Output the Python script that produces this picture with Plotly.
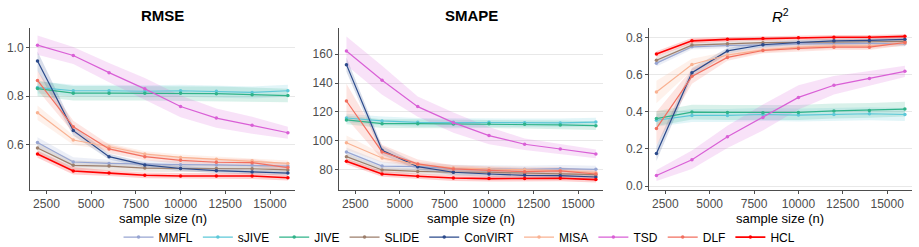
import plotly.graph_objects as go

n = [2000, 4000, 6000, 8000, 10000, 12000, 14000, 16000]
methods = ["MMFL", "sJIVE", "JIVE", "SLIDE", "ConVIRT", "MISA", "TSD", "DLF", "HCL"]
colors = {
    "MMFL": "#97A5D2", "sJIVE": "#5CC8D8", "JIVE": "#2FB389", "SLIDE": "#9C7E6B",
    "ConVIRT": "#2B4A8B", "MISA": "#F9B292", "TSD": "#D95FD6", "DLF": "#F26F5F", "HCL": "#FF0000",
}
x_title = "sample size (n)"

rmse = {
    "MMFL":    [0.608, 0.527, 0.521, 0.517, 0.516, 0.515, 0.513, 0.510],
    "sJIVE":   [0.836, 0.822, 0.822, 0.820, 0.822, 0.820, 0.815, 0.822],
    "JIVE":    [0.831, 0.812, 0.812, 0.812, 0.812, 0.810, 0.806, 0.802],
    "SLIDE":   [0.585, 0.513, 0.510, 0.502, 0.500, 0.500, 0.499, 0.494],
    "ConVIRT": [0.945, 0.657, 0.549, 0.515, 0.500, 0.491, 0.486, 0.481],
    "MISA":    [0.731, 0.618, 0.590, 0.560, 0.546, 0.538, 0.532, 0.521],
    "TSD":     [1.011, 0.968, 0.897, 0.830, 0.757, 0.709, 0.679, 0.648],
    "DLF":     [0.865, 0.673, 0.581, 0.549, 0.534, 0.526, 0.524, 0.504],
    "HCL":     [0.560, 0.490, 0.481, 0.472, 0.469, 0.469, 0.469, 0.462],
}
rmse_band = {
    "MMFL":    [0.022, 0.020, 0.015, 0.015, 0.015, 0.015, 0.015, 0.015],
    "sJIVE":   [0.025, 0.025, 0.025, 0.025, 0.025, 0.025, 0.025, 0.025],
    "JIVE":    [0.032, 0.030, 0.030, 0.030, 0.030, 0.030, 0.030, 0.028],
    "SLIDE":   [0.020, 0.020, 0.018, 0.015, 0.015, 0.015, 0.015, 0.015],
    "ConVIRT": [0.040, 0.020, 0.012, 0.010, 0.010, 0.010, 0.010, 0.010],
    "MISA":    [0.030, 0.020, 0.015, 0.012, 0.012, 0.012, 0.012, 0.012],
    "TSD":     [0.040, 0.035, 0.040, 0.045, 0.045, 0.040, 0.035, 0.025],
    "DLF":     [0.040, 0.025, 0.018, 0.015, 0.015, 0.015, 0.015, 0.015],
    "HCL":     [0.015, 0.015, 0.012, 0.012, 0.012, 0.012, 0.012, 0.012],
}

smape = {
    "MMFL":    [92.3, 82.5, 82.1, 80.9, 80.5, 80.2, 80.7, 80.2],
    "sJIVE":   [115.8, 113.8, 112.8, 112.8, 112.8, 112.6, 112.4, 113.0],
    "JIVE":    [114.5, 111.9, 111.9, 111.7, 111.9, 111.4, 111.0, 110.5],
    "SLIDE":   [89.0, 79.8, 78.8, 78.2, 78.2, 77.7, 77.2, 76.5],
    "ConVIRT": [152.8, 93.4, 82.1, 78.2, 77.0, 76.1, 75.8, 74.9],
    "MISA":    [98.7, 88.1, 83.5, 81.2, 80.5, 80.0, 79.3, 77.9],
    "TSD":     [162.3, 142.0, 123.7, 112.6, 103.6, 97.6, 94.3, 90.9],
    "DLF":     [127.6, 92.3, 84.0, 80.5, 79.5, 78.6, 79.1, 77.0],
    "HCL":     [85.8, 77.0, 75.4, 74.2, 73.8, 73.8, 74.0, 73.1],
}
smape_band = {
    "MMFL":    [3.0, 3.0, 2.5, 2.5, 2.5, 2.5, 2.5, 2.5],
    "sJIVE":   [3.0, 3.0, 3.0, 3.0, 3.0, 3.0, 3.0, 3.0],
    "JIVE":    [3.0, 3.0, 3.0, 3.0, 3.0, 3.0, 3.0, 3.0],
    "SLIDE":   [2.5, 2.0, 2.0, 2.0, 2.0, 2.0, 2.0, 2.0],
    "ConVIRT": [5.0, 3.0, 2.0, 2.0, 2.0, 2.0, 2.0, 2.0],
    "MISA":    [5.0, 3.0, 2.0, 2.0, 2.0, 2.0, 2.0, 2.0],
    "TSD":     [10.0, 10.0, 7.0, 7.0, 6.0, 4.0, 3.5, 3.0],
    "DLF":     [12.0, 5.0, 3.0, 2.5, 2.5, 2.5, 2.5, 2.5],
    "HCL":     [2.0, 2.0, 2.0, 2.0, 2.0, 2.0, 2.0, 2.0],
}

r2 = {
    "MMFL":    [0.661, 0.749, 0.756, 0.758, 0.765, 0.767, 0.767, 0.765],
    "sJIVE":   [0.354, 0.380, 0.380, 0.385, 0.382, 0.385, 0.389, 0.385],
    "JIVE":    [0.363, 0.398, 0.396, 0.394, 0.396, 0.404, 0.407, 0.414],
    "SLIDE":   [0.677, 0.758, 0.765, 0.771, 0.772, 0.776, 0.776, 0.778],
    "ConVIRT": [0.175, 0.610, 0.727, 0.760, 0.772, 0.781, 0.783, 0.789],
    "MISA":    [0.506, 0.654, 0.705, 0.732, 0.747, 0.754, 0.754, 0.769],
    "TSD":     [0.057, 0.142, 0.265, 0.369, 0.477, 0.542, 0.579, 0.617],
    "DLF":     [0.310, 0.590, 0.692, 0.729, 0.740, 0.747, 0.747, 0.772],
    "HCL":     [0.710, 0.781, 0.789, 0.794, 0.798, 0.800, 0.800, 0.805],
}
r2_band = {
    "MMFL":    [0.018, 0.015, 0.015, 0.015, 0.015, 0.015, 0.015, 0.015],
    "sJIVE":   [0.035, 0.035, 0.035, 0.035, 0.035, 0.035, 0.035, 0.035],
    "JIVE":    [0.040, 0.040, 0.040, 0.040, 0.040, 0.040, 0.040, 0.040],
    "SLIDE":   [0.018, 0.015, 0.015, 0.015, 0.015, 0.015, 0.015, 0.015],
    "ConVIRT": [0.040, 0.025, 0.015, 0.015, 0.012, 0.012, 0.012, 0.012],
    "MISA":    [0.060, 0.030, 0.018, 0.015, 0.015, 0.015, 0.015, 0.015],
    "TSD":     [0.030, 0.050, 0.060, 0.070, 0.065, 0.050, 0.040, 0.030],
    "DLF":     [0.090, 0.040, 0.018, 0.015, 0.015, 0.015, 0.015, 0.015],
    "HCL":     [0.015, 0.015, 0.012, 0.012, 0.012, 0.012, 0.012, 0.012],
}

panels = [
    ("<b>RMSE</b>", rmse, rmse_band, [0.411, 1.082], [0.6, 0.8, 1.0], ["0.6", "0.8", "1.0"]),
    ("<b>SMAPE</b>", smape, smape_band, [65.9, 178.2], [80, 100, 120, 140, 160], ["80", "100", "120", "140", "160"]),
    ("<i>R</i><sup>2</sup>", r2, r2_band, [-0.021, 0.85], [0.0, 0.2, 0.4, 0.6, 0.8], ["0.0", "0.2", "0.4", "0.6", "0.8"]),
]
xticks = [2500, 5000, 7500, 10000, 12500, 15000]
xrange_ = [1580, 16400]
domains = [[0.0, 0.3005], [0.3503, 0.6497], [0.7018, 1.0]]


def rgba(hexc, a):
    h = hexc.lstrip("#")
    return "rgba(%d,%d,%d,%.2f)" % (int(h[0:2], 16), int(h[2:4], 16), int(h[4:6], 16), a)


fig = go.Figure()
FONT = "Liberation Sans, Arial, sans-serif"

for i, (title, vals, band, yr, yt, ytl) in enumerate(panels):
    xa = "x" if i == 0 else "x%d" % (i + 1)
    ya = "y" if i == 0 else "y%d" % (i + 1)
    # bands
    for m in methods:
        v = vals[m]
        b = band[m]
        upper = [a + c for a, c in zip(v, b)]
        lower = [a - c for a, c in zip(v, b)]
        fig.add_trace(go.Scatter(
            x=n + n[::-1], y=upper + lower[::-1], mode="lines", fill="toself",
            fillcolor=rgba(colors[m], 0.18), line=dict(width=0),
            hoverinfo="skip", showlegend=False, xaxis=xa, yaxis=ya,
        ))
    for m in methods:
        fig.add_trace(go.Scatter(
            x=n, y=vals[m], mode="lines+markers", name=m,
            line=dict(color=colors[m], width=1.6 if m == "HCL" else 1.2),
            marker=dict(size=3.5, color=colors[m]),
            showlegend=(i == 0), legendgroup=m, xaxis=xa, yaxis=ya,
        ))
    axis_common = dict(
        showline=True, linecolor="#4d4d4d", linewidth=1,
        ticks="outside", ticklen=3, tickcolor="#4d4d4d",
        tickfont=dict(family=FONT, size=12, color="#4d4d4d"),
        zeroline=False, automargin=False,
    )
    fig.layout["xaxis" if i == 0 else "xaxis%d" % (i + 1)] = dict(
        domain=domains[i], range=xrange_, tickvals=xticks,
        ticktext=[str(t) for t in xticks], showgrid=False,
        anchor=ya,
        **axis_common,
    )
    fig.layout["yaxis" if i == 0 else "yaxis%d" % (i + 1)] = dict(
        domain=[0, 1], range=yr, tickvals=yt, ticktext=ytl,
        showgrid=True, gridcolor="#e8e8e8", gridwidth=1, anchor=xa,
        **axis_common,
    )
    xc = (domains[i][0] + domains[i][1]) / 2
    fig.add_annotation(
        text=title, xref="paper", yref="paper",
        x=xc, y=1.0, yshift=13,
        xanchor="center", yanchor="middle", showarrow=False,
        font=dict(family=FONT, size=15, color="#000"),
    )
    fig.add_annotation(
        text=x_title, xref="paper", yref="paper",
        x=xc, y=0.0, yshift=-28,
        xanchor="center", yanchor="middle", showarrow=False,
        font=dict(family=FONT, size=13, color="#000"),
    )

fig.update_layout(
    width=919, height=247,
    margin=dict(l=30, r=7, t=28, b=57),
    paper_bgcolor="white", plot_bgcolor="white",
    font=dict(family=FONT, size=12, color="#000"),
    legend=dict(
        orientation="h", x=0.487, xanchor="center",
        yref="container", y=0.04, yanchor="middle",
        font=dict(family=FONT, size=12, color="#000"),
        bgcolor="rgba(0,0,0,0)", tracegroupgap=0,
    ),
)

fig.write_html("out.html")
